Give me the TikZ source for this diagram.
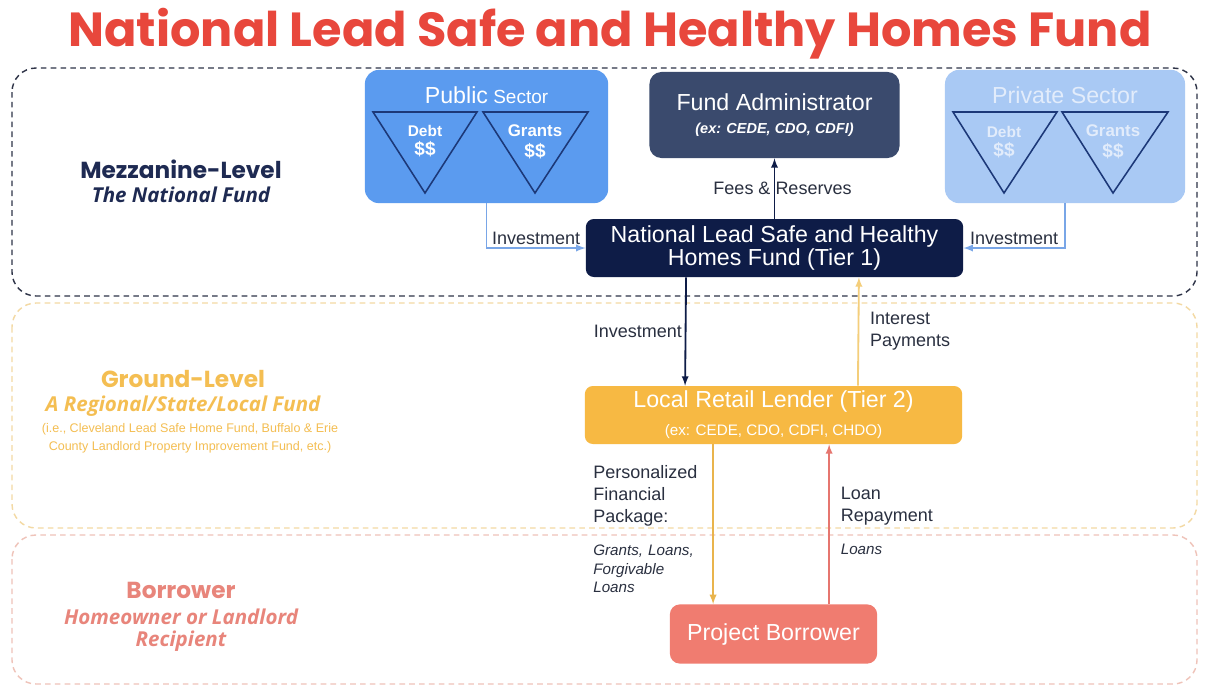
\documentclass[tikz,border=0pt]{standalone}
\usepackage{fontspec}
\setmainfont{Liberation Sans}
\newfontfamily\popfont{Poppins}
\newfontfamily\opfont{Open Sans}

\definecolor{titlered}{HTML}{E8473C}
\definecolor{mezzline}{HTML}{2E3347}
\definecolor{groundline}{HTML}{F3D9A3}
\definecolor{borline}{HTML}{EFC3B9}
\definecolor{pubblue}{HTML}{5B9BEF}
\definecolor{privblue}{HTML}{A9C9F4}
\definecolor{privtext}{HTML}{E2ECFB}
\definecolor{admnavy}{HTML}{3A4A6D}
\definecolor{natnavy}{HTML}{0E1C47}
\definecolor{lendgold}{HTML}{F7B943}
\definecolor{borsalmon}{HTML}{F07C70}
\definecolor{mezztext}{HTML}{1E2A52}
\definecolor{groundtext}{HTML}{F4BE52}
\definecolor{bortext}{HTML}{E8857B}
\definecolor{labelgray}{HTML}{2A3040}
\definecolor{invblue}{HTML}{79A6E7}
\definecolor{intgold}{HTML}{F4CE7B}
\definecolor{pkggold}{HTML}{E9B44C}
\definecolor{repred}{HTML}{E6766F}
\definecolor{trinavy}{HTML}{1C3878}

\tikzset{
  box/.style={rounded corners=0.35cm, text=white, align=center, font=\fontsize{16.5}{19}\selectfont},
  tri/.style={draw=trinavy, line width=1.1pt, line join=miter},
  lbl/.style={text=labelgray, font=\fontsize{12.8}{15.6}\selectfont, inner sep=2pt},
  sublbl/.style={text=labelgray, font=\fontsize{10.8}{13}\selectfont\itshape, inner sep=2pt},
  flow/.style={->, line width=1.3pt},
  level/.style={font=\popfont\bfseries\fontsize{16.5}{19}\selectfont},
  levelsub/.style={font=\opfont\bfseries\itshape\fontsize{14.6}{15.8}\selectfont, align=center}
}

\begin{document}
\begin{tikzpicture}[x=0.025cm, y=-0.025cm, >=latex]
            \useasboundingbox[fill=white] (0, 0) rectangle (1207, 687);

            % title
            \node[text=titlered, font=\popfont\bfseries\fontsize{34}{37}\selectfont] (title) at (610, 34) {National Lead Safe and Healthy Homes Fund};

            % the three levels
            \draw[mezzline, line width=1pt, dash pattern=on 4pt off 3pt, rounded corners=0.6cm] (12, 68) rectangle (1197, 296);
            \draw[groundline, line width=1pt, dash pattern=on 4pt off 3pt, rounded corners=0.6cm] (12, 303) rectangle (1197, 528);
            \draw[borline, line width=1pt, dash pattern=on 4pt off 3pt, rounded corners=0.6cm] (12, 535) rectangle (1197, 684);

            \node[level, text=mezztext] (mezzname) at (181, 169) {Mezzanine-Level};
            \node[levelsub, text=mezztext] (mezzsub) at (181, 195) {The National Fund};
            \node[level, text=groundtext] (groundname) at (183, 379) {Ground-Level};
            \node[levelsub, text=groundtext] (groundsub) at (183, 406) {A Regional/State/Local Fund};
            \node[text=groundtext, font=\fontsize{8.9}{12.8}\selectfont, align=center] (groundnote) at (190, 438) {(i.e., Cleveland Lead Safe Home Fund, Buffalo \& Erie\\County Landlord Property Improvement Fund, etc.)};
            \node[level, text=bortext] (borname) at (181, 590) {Borrower};
            \node[levelsub, text=bortext] (borsub) at (181, 630) {Homeowner or Landlord\\Recipient};

            % sectors
            \node[box, fill=pubblue, minimum width=6.08cm, minimum height=3.33cm] (pub) at (486.5, 136.5) {};
            \node[text=white, font=\fontsize{13.5}{16}\selectfont] (pubname) at (486.5, 95) {{\fontsize{16.5}{19}\selectfont Public} Sector};
            \draw[tri] (373, 112) -- (477, 112) -- (425, 193) -- cycle;
            \draw[tri] (483, 112) -- (588, 112) -- (535, 193) -- cycle;
            \node[text=white, font=\bfseries\fontsize{11}{14}\selectfont, align=center] (pubdebt) at (425, 141) {Debt\\{\fontsize{13.5}{14}\selectfont \$\$}};
            \node[text=white, font=\bfseries\fontsize{12}{15}\selectfont, align=center] (pubgrant) at (535, 142) {Grants\\{\fontsize{13.5}{15}\selectfont \$\$}};

            \node[box, fill=privblue, minimum width=6cm, minimum height=3.33cm] (priv) at (1065, 136.5) {};
            \node[text=privtext, font=\fontsize{16.5}{19}\selectfont] (privname) at (1065, 95) {Private Sector};
            \draw[tri] (953, 112) -- (1057, 112) -- (1004, 193) -- cycle;
            \draw[tri] (1062, 112) -- (1168, 112) -- (1113, 193) -- cycle;
            \node[text=privtext, font=\bfseries\fontsize{11}{14}\selectfont, align=center] (privdebt) at (1004, 142) {Debt\\{\fontsize{13.5}{15}\selectfont \$\$}};
            \node[text=privtext, font=\bfseries\fontsize{12}{15}\selectfont, align=center] (privgrant) at (1113, 142) {Grants\\{\fontsize{13.5}{15}\selectfont \$\$}};

            % funds
            \node[box, fill=admnavy, minimum width=6.25cm, minimum height=2.15cm, rounded corners=0.3cm] (fadm) at (774.5, 115) {Fund Administrator\\[-3pt]{\fontsize{10.3}{12}\selectfont\bfseries\itshape (ex: CEDE, CDO, CDFI)}};
            \node[box, fill=natnavy, minimum width=9.43cm, minimum height=1.45cm, rounded corners=0.2cm, font=\fontsize{16.5}{16.5}\selectfont] (nat) at (774.5, 248) {National Lead Safe and Healthy\\Homes Fund (Tier 1)};
            \node[box, fill=lendgold, minimum width=9.43cm, minimum height=1.45cm, rounded corners=0.2cm] (lend) at (773.5, 415) {Local Retail Lender (Tier 2)\\[1pt]{\fontsize{10.8}{12}\selectfont (ex: CEDE, CDO, CDFI, CHDO)}};
            \node[box, fill=borsalmon, minimum width=5.18cm, minimum height=1.48cm, rounded corners=0.25cm] (bor) at (773.5, 634) {Project Borrower};

            % flows
            \draw[flow, invblue] (pub.south) |- node[lbl, pos=0.75, above] {Investment} (nat.west);
            \draw[flow, invblue] (priv.south) |- node[lbl, pos=0.75, above] {Investment} (nat.east);
            \draw[flow, natnavy] (nat.north) -- node[lbl, xshift=0.2cm] {Fees \& Reserves} (fadm.south);
            \draw[flow, natnavy] ([xshift=-2.21cm]nat.south) -- node[lbl, left] {Investment} ([xshift=-2.21cm]lend.north);
            \draw[flow, intgold] ([xshift=2.11cm]lend.north) -- node[lbl, right, align=left, xshift=0.2cm] {Interest\\Payments} ([xshift=2.11cm]nat.south);
            \draw[flow, pkggold] ([xshift=-1.51cm]lend.south) -- node[lbl, pos=0.32, left, text width=2.9cm, align=left] {Personalized\\Financial\\Package:} node[sublbl, pos=0.78, left, text width=2.9cm, align=left] {Grants, Loans,\\Forgivable\\Loans} ([xshift=-1.51cm]bor.north);
            \draw[flow, repred] ([xshift=1.39cm]bor.north) -- node[lbl, pos=0.61, right, align=left, xshift=0.2cm] {Loan\\Repayment} node[sublbl, pos=0.34, right, xshift=0.2cm] {Loans} ([xshift=1.39cm]lend.south);

        \end{tikzpicture}
\end{document}
